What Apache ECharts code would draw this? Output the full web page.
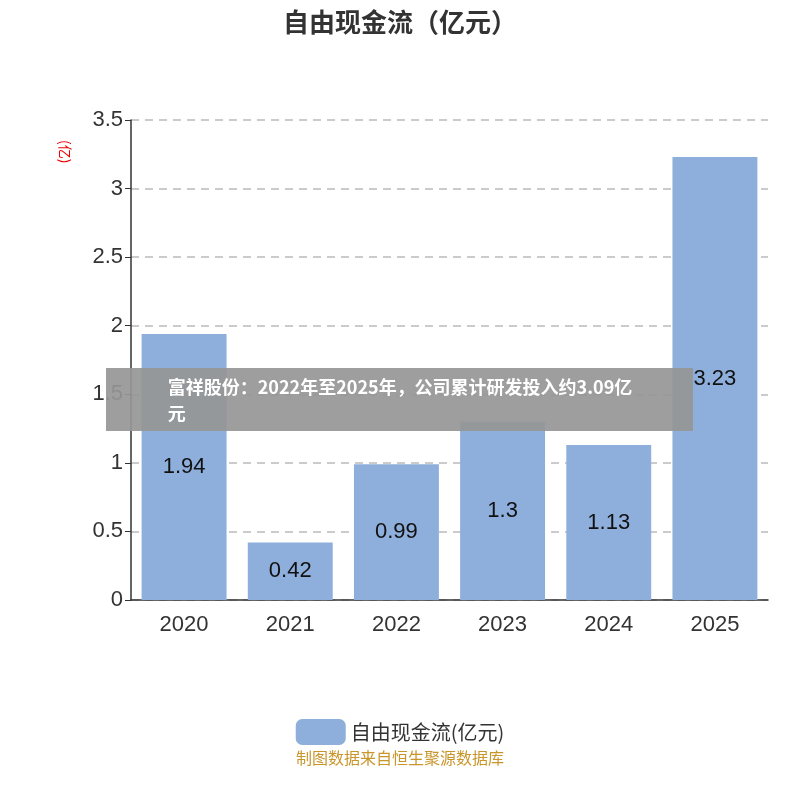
<!DOCTYPE html>
<html>
<head>
<meta charset="utf-8">
<script src="https://cdn.jsdelivr.net/npm/echarts@6/dist/echarts.min.js"></script>
<style>html,body{margin:0;padding:0;background:#fff}#container{width:800px;height:800px}</style>
</head>
<body>
<div id="container"></div>
<script>
var dom = document.getElementById("container");
var myChart = echarts.init(dom);

var years = ['2020', '2021', '2022', '2023', '2024', '2025'];
var cashFlow = [1.94, 0.42, 0.99, 1.3, 1.13, 3.23];
var bannerText = '富祥股份：2022年至2025年，公司累计研发投入约3.09亿\n元';

var option = {
    title: {
        text: '自由现金流（亿元）',
        left: 'center',
        top: 4,
        textStyle: { fontSize: 26, fontWeight: 'bold', color: '#333', fontFamily: 'Noto Sans CJK SC' }
    },
    grid: { left: 131, right: 32, top: 120, bottom: 200 },
    legend: {
        data: ['自由现金流(亿元)'],
        bottom: 50,
        itemWidth: 50,
        itemHeight: 26,
        textStyle: { fontSize: 20, color: '#333', fontFamily: 'Noto Sans CJK SC' }
    },
    xAxis: {
        type: 'category',
        data: years,
        axisLine: { lineStyle: { color: '#333', width: 1.5 } },
        axisTick: { length: 6, lineStyle: { color: '#333' } },
        axisLabel: { fontSize: 22, color: '#333', margin: 14 }
    },
    yAxis: {
        type: 'value',
        min: 0,
        max: 3.5,
        interval: 0.5,
        axisLine: { show: true, lineStyle: { color: '#333', width: 1.5 } },
        axisTick: { show: true, length: 6, lineStyle: { color: '#333' } },
        axisLabel: { fontSize: 22, color: '#333' },
        splitLine: { lineStyle: { type: [8, 6], color: '#bbb', width: 1.5 } }
    },
    graphic: [
        {
            type: 'text', left: 58, top: 140, rotation: -Math.PI / 2,
            style: { text: '(亿)', fill: '#e00', fontSize: 14, fontFamily: 'Noto Sans CJK SC' }
        },
        {
            type: 'rect', left: 106, top: 368, z: 100,
            shape: { width: 587, height: 63 },
            style: { fill: 'rgba(150,150,150,0.92)' }
        },
        {
            type: 'text', left: 'center', top: 374, z: 101,
            style: {
                text: bannerText, fill: '#fff', fontSize: 18, fontWeight: 'bold',
                align: 'center', lineHeight: 26, fontFamily: 'Noto Sans CJK SC'
            }
        },
        {
            type: 'text', left: 'center', top: 750,
            style: { text: '制图数据来自恒生聚源数据库', fill: '#c9962b', fontSize: 16, fontFamily: 'Noto Sans CJK SC' }
        }
    ],
    series: [
        {
            name: '自由现金流(亿元)',
            type: 'bar',
            data: cashFlow,
            barWidth: '80%',
            itemStyle: { color: '#8eaedb' },
            label: { show: true, position: 'inside', fontSize: 22, color: '#111' }
        }
    ]
};
myChart.setOption(option);
</script>
</body>
</html>
